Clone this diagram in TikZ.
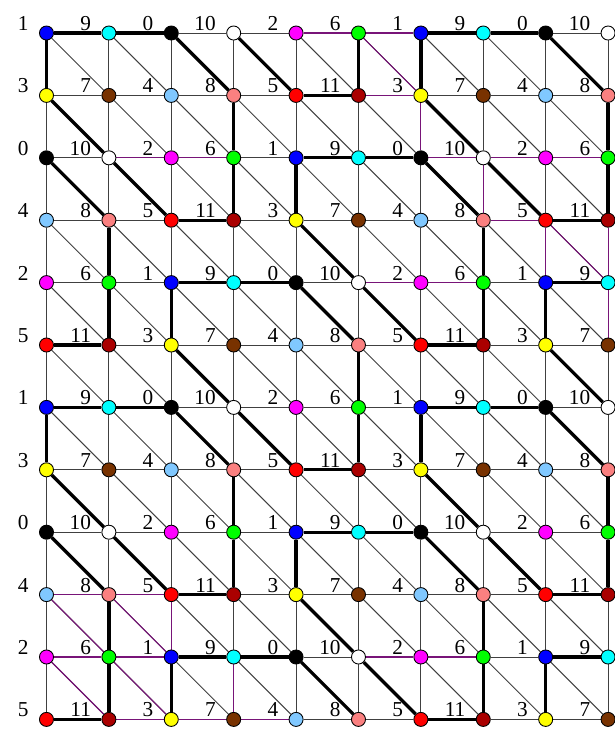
\documentclass[tikz,border=0pt]{standalone}
\usepackage{fontspec}
\setmainfont{Liberation Serif}
\usetikzlibrary{backgrounds}

\definecolor{pc0}{RGB}{0,0,0}
\definecolor{pc1}{RGB}{0,0,255}
\definecolor{pc2}{RGB}{255,0,255}
\definecolor{pc3}{RGB}{255,255,0}
\definecolor{pc4}{RGB}{128,200,255}
\definecolor{pc5}{RGB}{255,0,0}
\definecolor{pc6}{RGB}{0,255,0}
\definecolor{pc7}{RGB}{120,50,0}
\definecolor{pc8}{RGB}{250,128,128}
\definecolor{pc9}{RGB}{0,255,255}
\definecolor{pc10}{RGB}{255,255,255}
\definecolor{pc11}{RGB}{170,0,0}
\definecolor{chordcol}{RGB}{120,20,120}

% pitch classes, 6 x 6 block repeated over the lattice
\def\pclist{{1,9,0,10,2,6, 3,7,4,8,5,11, 0,10,2,6,1,9, 4,8,5,11,3,7, 2,6,1,9,0,10, 5,11,3,7,4,8}}

\begin{document}
\begin{tikzpicture}[
  pc/.style={circle, draw, line width=0.4pt, minimum size=0.225cm, inner sep=0pt},
  lbl/.style={font=\fontsize{9.7}{11}\selectfont, anchor=base east, inner sep=0pt},
  lnk/.style={draw=black!75, line width=0.45pt},
  chord/.style={draw=chordcol, line width=0.5pt},
  hexline/.style={draw=black, line width=1.5pt}
]
\useasboundingbox (-0.745,0.529) rectangle (9.111,-11.17);
\clip (-0.745,0.529) rectangle (9.111,-11.17);

%--- Nodes and labels ---
\foreach \r in {0,...,11}
  \foreach \c in {0,...,9} {
    \pgfmathtruncatemacro\v{\pclist[6*mod(\r,6)+mod(\c,6)]}
    \node[pc, fill=pc\v] (p-\c-\r) at (\c,-\r) {};
    \node[lbl] (t-\c-\r) at ([xshift=-0.28cm, yshift=0.04cm]p-\c-\r.center) {\v};
  }

\begin{scope}[on background layer]
%--- Lattice: horizontal, vertical, diagonal ---
\foreach \r in {0,...,11}
  \foreach \c in {0,...,9} {
    \pgfmathtruncatemacro\cn{\c+1}
    \pgfmathtruncatemacro\rn{\r+1}
    \ifnum\c<9 \draw[lnk] (p-\c-\r) -- (p-\cn-\r); \fi
    \ifnum\r<11 \draw[lnk] (p-\c-\r) -- (p-\c-\rn); \fi
    \ifnum\c<9 \ifnum\r<11 \draw[lnk] (p-\c-\r) -- (p-\cn-\rn); \fi\fi
  }

%--- Highlighted chords ---
\foreach \a/\b in {1-2/2-2, 2-2/3-2, 4-0/5-0, 5-0/6-0, 5-1/6-1, 6-2/7-2, 7-2/8-2, 8-2/9-2,
    5-4/6-4, 6-4/7-4, 7-3/8-3, 0-9/1-9, 1-9/2-9, 0-10/1-10, 1-10/2-10, 1-11/2-11,
    2-11/3-11, 3-11/4-11, 5-10/6-10, 6-10/7-10,
    6-1/6-2, 7-2/7-3, 8-3/8-4, 9-3/9-4, 9-4/9-5, 2-9/2-10, 3-10/3-11,
    5-0/6-1, 8-3/9-4, 0-9/1-10, 1-9/2-10, 0-10/1-11, 1-10/2-11}
  \draw[chord] (p-\a) -- (p-\b);

%--- Hexagons (thick) ---
\foreach \ox/\oy in {2/-2, 0/0, 6/0, -2/2, 4/2, 2/4, 8/4, 0/6, 6/6, -2/8, 4/8, 2/10, 8/10}
  \foreach \ax/\ay/\bx/\by in {0/0/1/0, 1/0/2/0, 2/0/3/1, 3/1/3/2, 3/2/3/3, 2/3/3/3, 1/2/2/3, 0/1/1/2, 0/0/0/1} {
    \pgfmathtruncatemacro\xa{\ox+\ax}
    \pgfmathtruncatemacro\ya{\oy+\ay}
    \pgfmathtruncatemacro\xb{\ox+\bx}
    \pgfmathtruncatemacro\yb{\oy+\by}
    \pgfmathtruncatemacro\inside{and(and(\xa>=0,\ya>=0),and(\xb<=9,\yb<=11))}
    \ifnum\inside=1 \draw[hexline] (p-\xa-\ya) -- (p-\xb-\yb); \fi
  }
\end{scope}
\end{tikzpicture}
\end{document}
